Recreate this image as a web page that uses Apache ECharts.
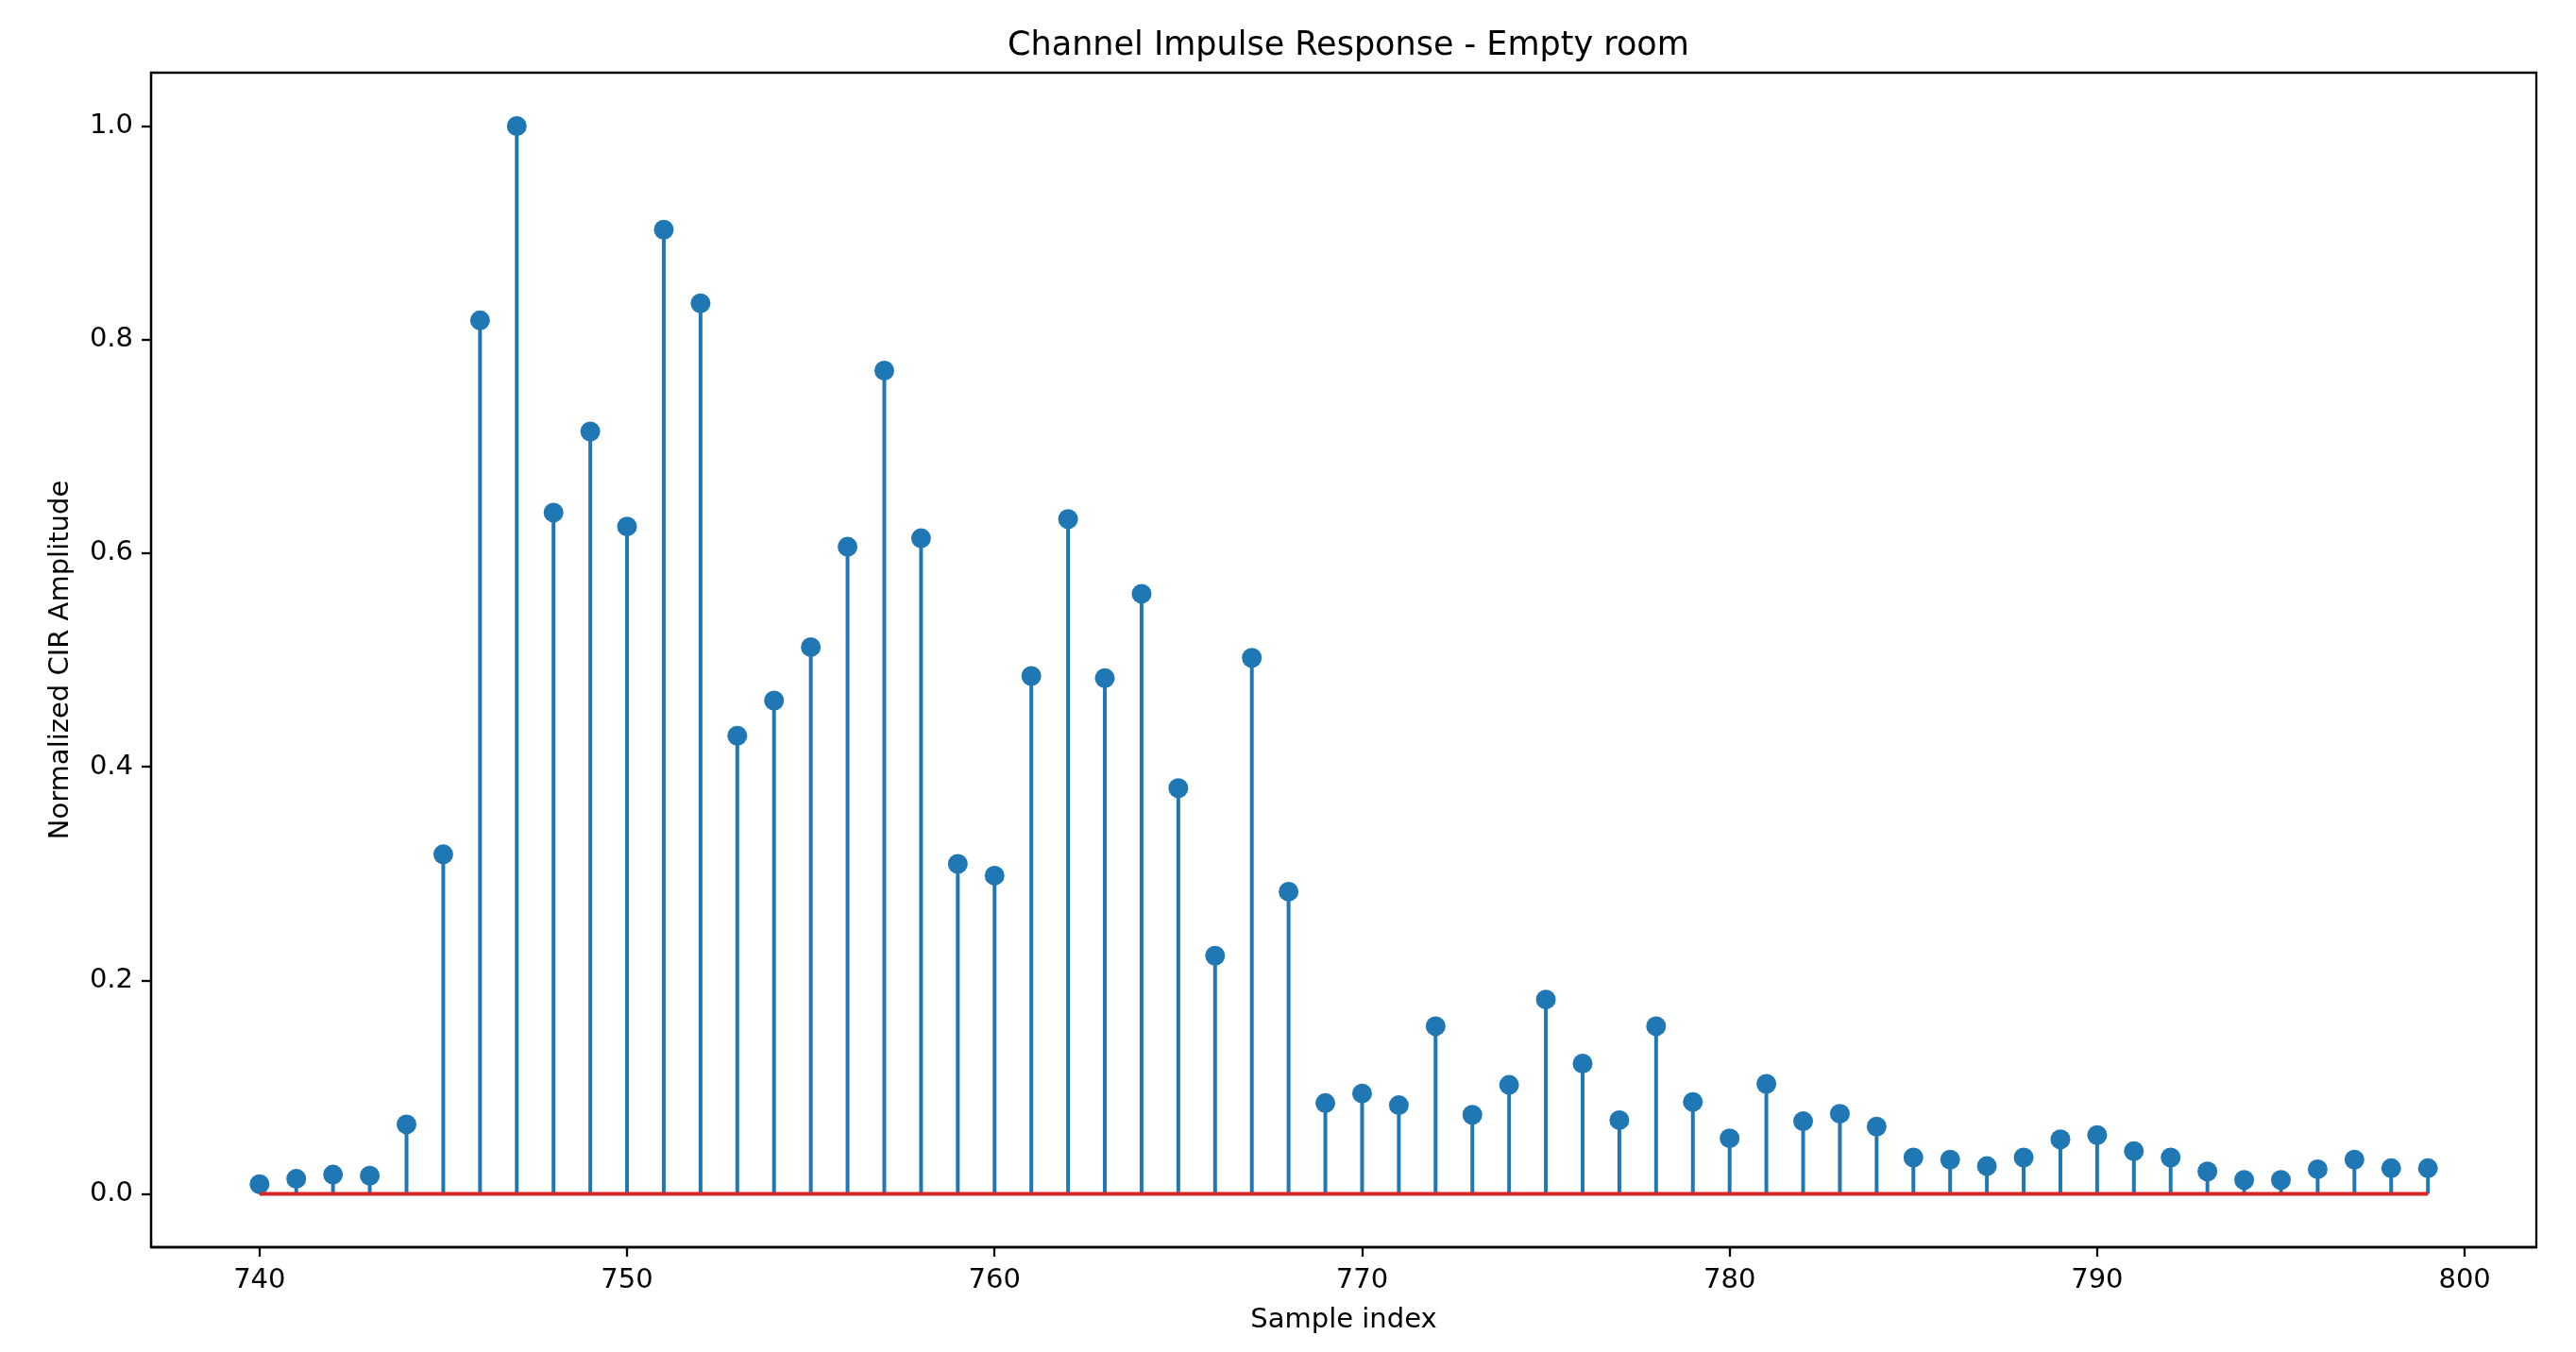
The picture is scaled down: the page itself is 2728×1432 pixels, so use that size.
<!DOCTYPE html>
<html>
<head>
<meta charset="utf-8">
<script src="https://cdn.jsdelivr.net/npm/echarts@6/dist/echarts.min.js"></script>
<style>
html,body{margin:0;padding:0;background:#fff;}
#chart{width:2728px;height:1432px;}
</style>
</head>
<body>
<div id="chart"></div>
<script>
const sampleIndex = [740,741,742,743,744,745,746,747,748,749,750,751,752,753,754,755,756,757,758,759,760,761,762,763,764,765,766,767,768,769,770,771,772,773,774,775,776,777,778,779,780,781,782,783,784,785,786,787,788,789,790,791,792,793,794,795,796,797,798,799];
const amplitude = [0.009,0.014,0.018,0.017,0.065,0.318,0.818,1.0,0.638,0.714,0.625,0.903,0.834,0.429,0.462,0.512,0.606,0.771,0.614,0.309,0.298,0.485,0.632,0.483,0.562,0.380,0.223,0.502,0.283,0.085,0.094,0.083,0.157,0.074,0.102,0.182,0.122,0.069,0.157,0.086,0.052,0.103,0.068,0.075,0.063,0.034,0.032,0.026,0.034,0.051,0.055,0.040,0.034,0.021,0.013,0.013,0.023,0.032,0.024,0.024];
const xTicks = [740,750,760,770,780,790,800];
const yTicks = [0.0,0.2,0.4,0.6,0.8,1.0];
const titleText = 'Channel Impulse Response - Empty room';
const xLabel = 'Sample index';
const yLabel = 'Normalized CIR Amplitude';

const points = sampleIndex.map((x,i)=>[x, amplitude[i]]);
const baseline = [[sampleIndex[0],0],[sampleIndex[sampleIndex.length-1],0]];
const xSpan = sampleIndex[sampleIndex.length-1]-sampleIndex[0];
const font = 'DejaVu Sans';

const chart = echarts.init(document.getElementById('chart'), null, {renderer:'canvas'});
chart.setOption({
  animation:false,
  backgroundColor:'#fff',
  title:{text:titleText,left:1423,textAlign:'center',top:26,
    textStyle:{fontFamily:font,fontSize:35,fontWeight:'normal',color:'#000'}},
  grid:{left:160,right:42,top:77,bottom:111,show:true,borderColor:'#000',borderWidth:2.3,backgroundColor:'transparent'},
  xAxis:{type:'value',min:sampleIndex[0]-0.05*xSpan,max:sampleIndex[sampleIndex.length-1]+0.05*xSpan,
    name:xLabel,nameLocation:'middle',nameGap:63,
    nameTextStyle:{fontFamily:font,fontSize:29,color:'#000'},
    axisLine:{show:true,onZero:false,lineStyle:{color:'#000',width:2.3}},
    axisTick:{show:true,length:10,customValues:xTicks,lineStyle:{color:'#000',width:2.3}},
    axisLabel:{customValues:xTicks,margin:21,fontFamily:font,fontSize:29,color:'#000'},
    splitLine:{show:false}},
  yAxis:{type:'value',min:-0.05,max:1.05,
    name:yLabel,nameLocation:'middle',nameGap:81,nameRotate:90,
    nameTextStyle:{fontFamily:font,fontSize:29,color:'#000'},
    axisLine:{show:true,onZero:false,lineStyle:{color:'#000',width:2.3}},
    axisTick:{show:true,length:10,customValues:yTicks,lineStyle:{color:'#000',width:2.3}},
    axisLabel:{customValues:yTicks,margin:19,fontFamily:font,fontSize:29,color:'#000',
      formatter:v=>v.toFixed(1)},
    splitLine:{show:false}},
  series:[
    {type:'bar',data:points,barWidth:4,itemStyle:{color:'#1f77b4'},z:2,silent:true},
    {type:'scatter',data:points,symbol:'circle',symbolSize:21,itemStyle:{color:'#1f77b4',opacity:1},z:3,silent:true},
    {type:'line',data:baseline,symbol:'none',lineStyle:{color:'#d62728',width:4},z:4,silent:true}
  ]
});
</script>
</body>
</html>
